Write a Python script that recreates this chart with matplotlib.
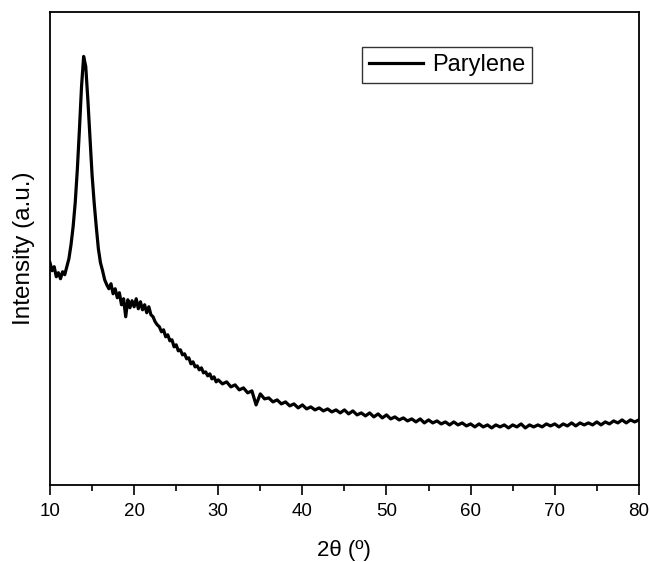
import matplotlib
matplotlib.use("Agg")
import matplotlib.pyplot as plt
from matplotlib.ticker import MultipleLocator, NullLocator

# 2-theta (degrees) and intensity (a.u.)
two_theta = [
    10.00, 10.25, 10.50, 10.75, 11.00, 11.25, 11.50, 11.75, 12.00, 12.25,
    12.50, 12.75, 13.00, 13.25, 13.50, 13.75, 14.00, 14.25, 14.50, 14.75,
    15.00, 15.25, 15.50, 15.75, 16.00, 16.25, 16.50, 16.75, 17.00, 17.25,
    17.50, 17.75, 18.00, 18.25, 18.50, 18.75, 19.00, 19.25, 19.50, 19.75,
    20.00, 20.25, 20.50, 20.75, 21.00, 21.25, 21.50, 21.75, 22.00, 22.25,
    22.50, 22.75, 23.00, 23.25, 23.50, 23.75, 24.00, 24.25, 24.50, 24.75,
    25.00, 25.25, 25.50, 25.75, 26.00, 26.25, 26.50, 26.75, 27.00, 27.25,
    27.50, 27.75, 28.00, 28.25, 28.50, 28.75, 29.00, 29.25, 29.50, 29.75,
    30.00,
    30.5, 31.0, 31.5, 32.0, 32.5, 33.0, 33.5, 34.0, 34.5, 35.0,
    35.5, 36.0, 36.5, 37.0, 37.5, 38.0, 38.5, 39.0, 39.5, 40.0,
    40.5, 41.0, 41.5, 42.0, 42.5, 43.0, 43.5, 44.0, 44.5, 45.0,
    45.5, 46.0, 46.5, 47.0, 47.5, 48.0, 48.5, 49.0, 49.5, 50.0,
    50.5, 51.0, 51.5, 52.0, 52.5, 53.0, 53.5, 54.0, 54.5, 55.0,
    55.5, 56.0, 56.5, 57.0, 57.5, 58.0, 58.5, 59.0, 59.5, 60.0,
    60.5, 61.0, 61.5, 62.0, 62.5, 63.0, 63.5, 64.0, 64.5, 65.0,
    65.5, 66.0, 66.5, 67.0, 67.5, 68.0, 68.5, 69.0, 69.5, 70.0,
    70.5, 71.0, 71.5, 72.0, 72.5, 73.0, 73.5, 74.0, 74.5, 75.0,
    75.5, 76.0, 76.5, 77.0, 77.5, 78.0, 78.5, 79.0, 79.5, 80.0,
]
intensity = [
    222, 214, 218, 208, 212, 206, 213, 210, 218, 226,
    240, 258, 282, 315, 355, 398, 428, 418, 385, 348,
    310, 282, 258, 236, 222, 214, 205, 200, 196, 201,
    191, 196, 187, 192, 180, 186, 168, 185, 177, 184,
    178, 186, 176, 183, 175, 180, 172, 178, 170, 168,
    163, 160, 158, 153, 155, 148, 150, 144, 145, 138,
    140, 134, 135, 130, 131, 126, 127, 121, 123, 118,
    119, 115, 117, 112, 113, 109, 111, 106, 108, 103,
    105,
    101, 103, 98, 100, 95, 97, 92, 94, 80, 91,
    86, 87, 83, 85, 81, 83, 79, 81, 77, 80,
    76, 78, 75, 77, 74, 76, 73, 75, 72, 75,
    71, 74, 70, 72, 69, 72, 68, 71, 67, 70,
    66, 68, 65, 67, 64, 66, 63, 66, 62, 65,
    62, 64, 61, 63, 60, 63, 60, 62, 59, 61,
    58, 61, 58, 60, 57, 60, 58, 60, 57, 60,
    58, 61, 57, 60, 58, 60, 58, 61, 59, 61,
    58, 61, 59, 62, 59, 62, 60, 62, 60, 63,
    60, 63, 61, 64, 62, 65, 62, 65, 63, 65,
]

series_name = "Parylene"
x_ticks = [10, 20, 30, 40, 50, 60, 70, 80]

plt.rcParams['font.family'] = ['Liberation Sans', 'DejaVu Sans']

fig = plt.figure(figsize=(6.5, 5.62), dpi=100)
ax = fig.add_axes([0.0769, 0.137, 0.906, 0.841])

ax.plot(two_theta, intensity, color='black', lw=2.3, label=series_name)

ax.set_xlim(10, 80)
ax.set_ylim(0, 472)
ax.set_xticks(x_ticks)
ax.xaxis.set_minor_locator(MultipleLocator(5))
ax.yaxis.set_major_locator(NullLocator())
ax.tick_params(axis='x', which='major', direction='out', length=7, width=1.2,
               labelsize=13.5, pad=6)
ax.tick_params(axis='x', which='minor', direction='out', length=4, width=1.2)
for s in ax.spines.values():
    s.set_linewidth(1.3)

ax.set_xlabel("2θ (º)", fontsize=16, labelpad=14)
ax.set_ylabel("Intensity (a.u.)", fontsize=17.5, labelpad=11)

leg = ax.legend(loc='upper left', bbox_to_anchor=(0.530, 0.927), fontsize=17,
                frameon=True, fancybox=False, handlelength=2.3,
                borderpad=0.3, handletextpad=0.35, borderaxespad=0)
leg.get_frame().set_edgecolor('black')
leg.get_frame().set_linewidth(1.0)

fig.savefig("out.png", dpi=100)
